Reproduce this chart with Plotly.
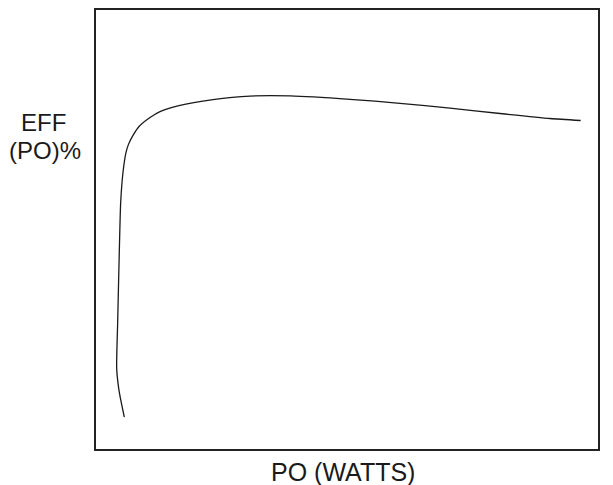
import plotly.graph_objects as go

# Output power (arbitrary units, 0-100 across the axis)
po_watts = [5.64, 4.98, 4.52, 4.12, 4.32, 4.64, 4.92, 5.38, 5.98, 6.47, 7.37, 8.57,
            10.76, 12.75, 16.53, 23.31, 30.68, 38.65, 50.6, 60.56, 70.52, 80.48, 90.44, 96.55]
# Efficiency (arbitrary units, 0-100 across the axis)
eff_pct = [7.26, 10.88, 13.83, 18.37, 29.0, 44.9, 56.24, 63.04, 67.57, 69.39, 71.43, 73.47,
           75.51, 76.87, 78.23, 79.59, 80.39, 80.43, 79.66, 78.75, 77.66, 76.42, 75.28, 74.83]

x_title = "PO (WATTS)"
y_title_lines = ["EFF", "(PO)%"]

font = dict(family="Liberation Sans, Arial", size=25, color="#1a1a1a")
yfont = dict(family="Liberation Sans, Arial", size=24, color="#1a1a1a")

fig = go.Figure()
fig.add_trace(go.Scatter(
    x=po_watts, y=eff_pct, mode="lines",
    line=dict(color="#1a1a1a", width=1.3, shape="spline", smoothing=0.6),
    hoverinfo="skip", showlegend=False,
))

fig.update_xaxes(range=[0, 100], showgrid=False, zeroline=False, showticklabels=False,
                 ticks="", showline=True, linecolor="#222", linewidth=1.5, mirror=True)
fig.update_yaxes(range=[0, 100], showgrid=False, zeroline=False, showticklabels=False,
                 ticks="", showline=True, linecolor="#222", linewidth=1.5, mirror=True)

fig.add_annotation(text=x_title, xref="paper", yref="paper", x=0.493, y=0,
                   yshift=-23, xanchor="center", yanchor="middle", showarrow=False, font=font)
fig.add_annotation(text=y_title_lines[0], xref="paper", yref="paper", x=0, y=0.744,
                   xshift=-53, xanchor="center", yanchor="middle", showarrow=False, font=yfont)
fig.add_annotation(text=y_title_lines[1], xref="paper", yref="paper", x=0, y=0.680,
                   xshift=-51, xanchor="center", yanchor="middle", showarrow=False, font=yfont)

fig.update_layout(width=605, height=477, margin=dict(l=88, r=15, t=0, b=36),
                  plot_bgcolor="white", paper_bgcolor="white")
fig.write_html("out.html")
